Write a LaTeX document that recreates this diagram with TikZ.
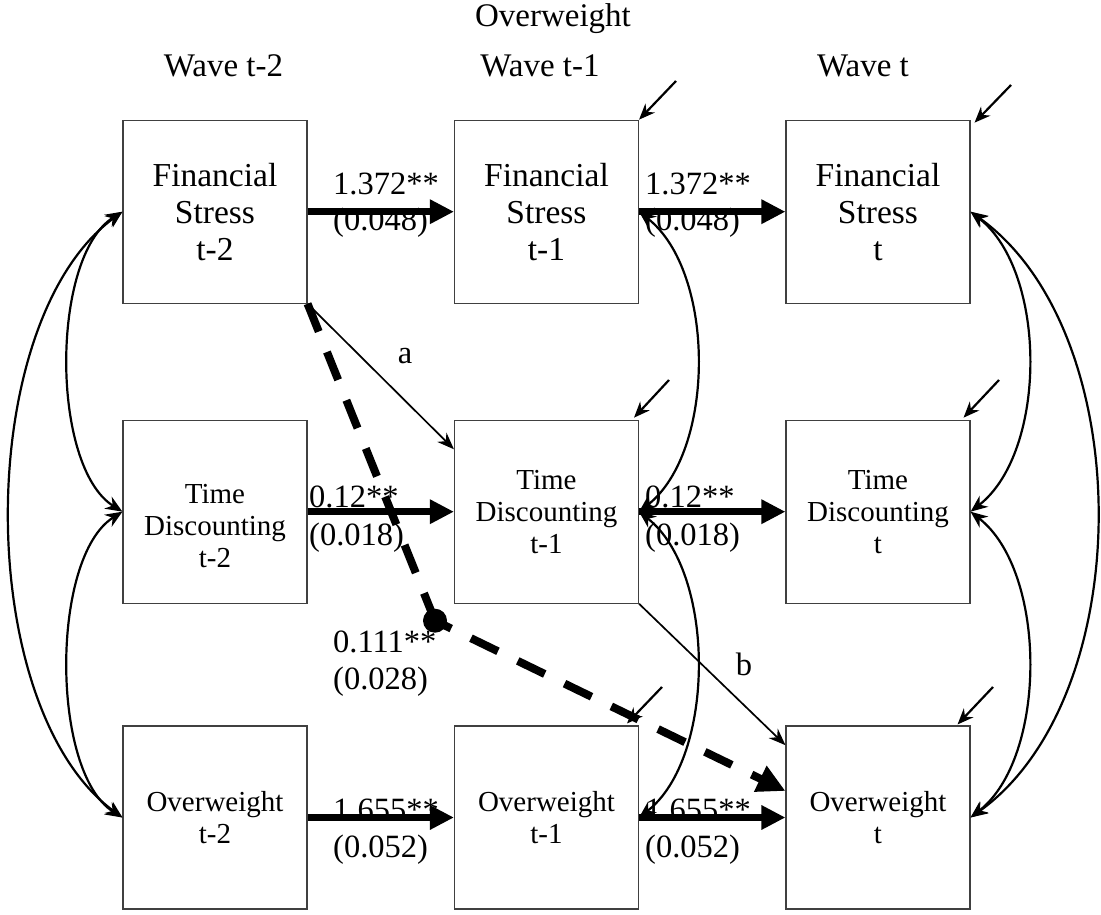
\documentclass[tikz,border=0pt]{standalone}
\usepackage{fontspec}
\setmainfont{Liberation Serif}
\usetikzlibrary{arrows.meta,calc}
\begin{document}
\begin{tikzpicture}[x=1pt,y=-1pt,
  box/.style={draw=black!75, line width=1.1pt, minimum width=184pt, minimum height=183pt,
              inner sep=0pt, align=center, fill=white},
  txtA/.style={font=\fontsize{33.5}{37}\selectfont},
  txtB/.style={font=\fontsize{29}{32}\selectfont},
  coef/.style={font=\fontsize{32.5}{36}\selectfont, anchor=base west, inner sep=0pt},
  colhead/.style={font=\fontsize{33}{36}\selectfont, anchor=base, inner sep=0pt},
  stab/.style={line width=7.5pt, -{Triangle[length=24pt,width=23pt]}},
  cov/.style={line width=2.2pt, {Stealth[length=17pt,width=14pt]}-{Stealth[length=17pt,width=14pt]}},
  eff/.style={line width=1.7pt, -{Stealth[length=17pt,width=13pt]}},
  resid/.style={line width=2.2pt, -{Stealth[length=16pt,width=13pt]}},
  indirect/.style={line width=8pt, dash pattern=on 30pt off 22pt},
]
\useasboundingbox (0,0) rectangle (1101,915);

% headings
\node[colhead] (title) at (553,27) {Overweight};
\node[colhead] (w2) at (223.5,77) {Wave t-2};
\node[colhead] (w1) at (540,77) {Wave t-1};
\node[colhead] (w0) at (863,77) {Wave t};

% variables
\node[box, txtA] (FS2) at (215,211.7) {Financial\\Stress\\t-2};
\node[box, txtA] (FS1) at (546.5,211.7) {Financial\\Stress\\t-1};
\node[box, txtA] (FS0) at (878,211.7) {Financial\\Stress\\t};
\node[box, label={[txtB, align=center, yshift=-14pt]center:{Time\\Discounting\\t-2}}] (TD2) at (215,511.7) {};
\node[box, txtB] (TD1) at (546.5,511.7) {Time\\Discounting\\t-1};
\node[box, txtB] (TD0) at (878,511.7) {Time\\Discounting\\t};
\node[box, txtB] (OW2) at (215,817.5) {Overweight\\t-2};
\node[box, txtB] (OW1) at (546.5,817.5) {Overweight\\t-1};
\node[box, txtB] (OW0) at (878,817.5) {Overweight\\t};

% coefficients
\node[coef] (c1a) at (333,194) {1.372**};
\node[coef] (c1b) at (333,230) {(0.048)};
\node[coef] (c2a) at (645,194) {1.372**};
\node[coef] (c2b) at (645,230) {(0.048)};
\node[coef] (c3a) at (309,507) {0.12**};
\node[coef] (c3b) at (309,545) {(0.018)};
\node[coef] (c4a) at (645,507) {0.12**};
\node[coef] (c4b) at (645,545) {(0.018)};
\node[coef] (c5a) at (333,820) {1.655**};
\node[coef] (c5b) at (333,857) {(0.052)};
\node[coef] (c6a) at (645,820) {1.655**};
\node[coef] (c6b) at (645,857) {(0.052)};
\node[coef] (c7a) at (333,652) {0.111**};
\node[coef] (c7b) at (333,689) {(0.028)};
\node[coef, anchor=base] (la) at (405,363) {a};
\node[coef, anchor=base] (lb) at (744,675) {b};

% stability paths
\draw[stab] (FS2.east) -- (FS1.west);
\draw[stab] (FS1.east) -- (FS0.west);
\draw[stab] (TD2.east) -- (TD1.west);
\draw[stab] (TD1.east) -- (TD0.west);
\draw[stab] (OW2.east) -- (OW1.west);
\draw[stab] (OW1.east) -- (OW0.west);

% covariances
\draw[cov] (FS2.west) .. controls +(-72,45) and +(-72,-45) .. (TD2.west);
\draw[cov] (TD2.west) .. controls +(-72,45) and +(-72,-45) .. (OW2.west);
\draw[cov] (FS2.west) .. controls +(-150,110) and +(-150,-110) .. (OW2.west);
\draw[cov] (FS1.east) .. controls +(77,60) and +(77,-60) .. (TD1.east);
\draw[cov] (TD1.east) .. controls +(77,60) and +(77,-60) .. (OW1.east);
\draw[cov] (FS0.east) .. controls +(77,60) and +(77,-60) .. (TD0.east);
\draw[cov] (TD0.east) .. controls +(77,60) and +(77,-60) .. (OW0.east);
\draw[cov] (FS0.east) .. controls +(168,120) and +(168,-120) .. (OW0.east);

% mediation paths
\draw[eff] (FS2.south east) -- (TD1.146);
\draw[eff] (TD1.south east) -- (OW0.142);

% indirect effect
\node[circle, fill=black, minimum size=24pt, inner sep=0pt] (dot) at (435,620.7) {};
\draw[indirect] (FS2.south east) -- (dot.center);
\draw[indirect, dash phase=12pt, -{Triangle[length=28pt,width=27pt]}] (dot.center) -- (OW0.164);

% residual terms
\coordinate (eFS1) at (676,81);
\coordinate (eFS0) at (1011,85);
\coordinate (eTD1) at (669,380);
\coordinate (eTD0) at (999,380);
\coordinate (eOW1) at (662,687);
\coordinate (eOW0) at (993,687);
\draw[resid] (eFS1) -- (FS1.north east);
\draw[resid] (eFS0) -- ($(FS0.north east)+(4,3)$);
\draw[resid] (eTD1) -- ($(TD1.north east)+(-5,-2)$);
\draw[resid] (eTD0) -- ($(TD0.north east)+(-7,-2)$);
\draw[resid] (eOW1) -- ($(OW1.north east)+(-12,-2)$);
\draw[resid] (eOW0) -- ($(OW0.north east)+(-13,-1)$);
\end{tikzpicture}
\end{document}
